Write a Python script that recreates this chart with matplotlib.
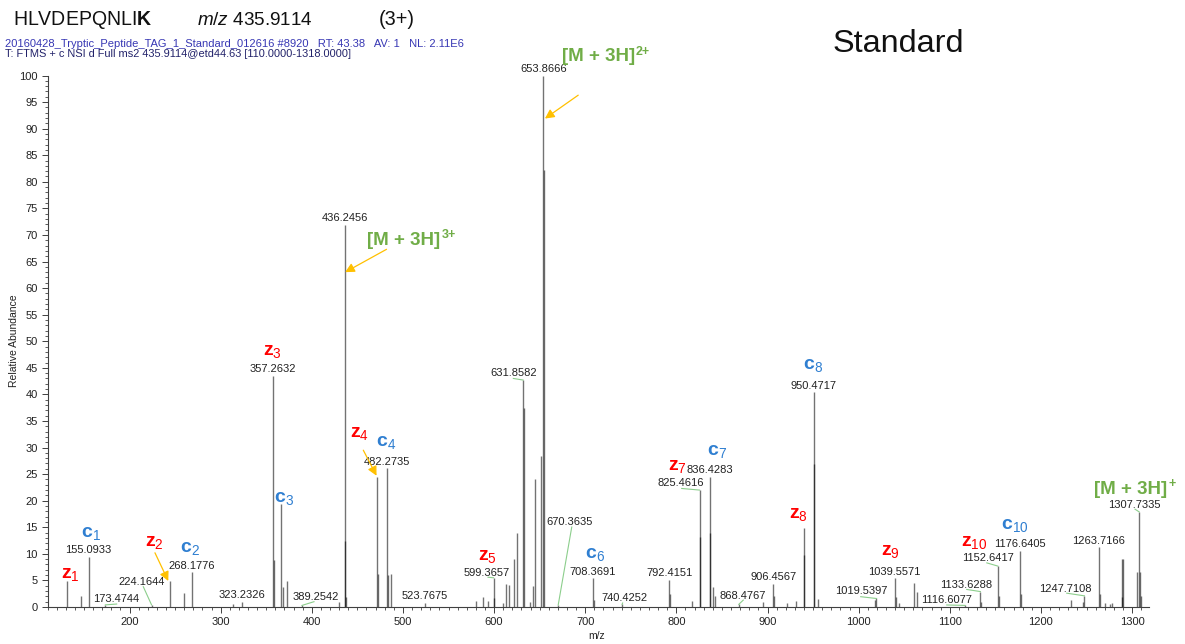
import matplotlib
matplotlib.use("Agg")
import matplotlib.pyplot as plt
from matplotlib.ticker import MultipleLocator
from matplotlib.transforms import offset_copy

plt.rcParams["font.family"] = ["Liberation Sans", "DejaVu Sans"]
plt.rcParams["mathtext.fontset"] = "custom"
plt.rcParams["mathtext.rm"] = "Liberation Sans"
plt.rcParams["mathtext.bf"] = "Liberation Sans:bold"
plt.rcParams["mathtext.it"] = "Liberation Sans:italic"
plt.rcParams["mathtext.default"] = "regular"

# ---- spectrum: centroid m/z and relative abundance (%) ----
peak_mz = [131.1, 146.9, 155.0933, 173.4744, 224.1644, 244.14, 260.1, 268.1776,
           313.9, 323.2326, 357.2632, 358.27, 366.2, 368.0, 373.2, 389.2542,
           430.0, 436.2456, 436.58, 437.2, 471.2, 472.2, 482.2735, 483.3, 486.6,
           523.7675, 579.9, 588.2, 593.7, 599.3657, 600.4, 609.5, 613.1, 616.4,
           621.5, 625.0, 631.8582, 632.36, 639.5, 643.1, 644.85, 651.3,
           653.8666, 654.37, 670.3635, 708.3691, 709.37, 740.4252, 792.4151,
           793.4, 816.9, 825.4616, 826.46, 836.4283, 837.43, 840.3, 842.5,
           868.4767, 894.7, 906.4567, 907.46, 921.2, 931.5, 939.5, 940.5,
           950.4717, 951.47, 955.8, 1017.6, 1019.5397, 1039.5571, 1040.56,
           1044.3, 1061.2, 1063.7, 1116.6077, 1133.6288, 1134.6, 1152.6417,
           1153.6, 1176.6405, 1177.64, 1232.7, 1245.7, 1247.7108, 1263.7166,
           1264.7, 1270.6, 1276.0, 1278.5, 1288.5, 1289.4, 1290.2, 1305.2,
           1307.7335, 1308.7, 1310.0]
peak_int = [4.8, 2.1, 9.5, 0.4, 0.4, 4.8, 2.6, 6.5,
            0.6, 1.0, 43.5, 8.8, 19.3, 3.8, 4.8, 0.3,
            0.9, 71.9, 12.4, 1.9, 24.5, 6.3, 26.1, 6.0, 6.3,
            0.8, 1.2, 1.9, 1.2, 5.5, 1.6, 0.8, 4.3, 4.1,
            9.0, 14.0, 42.7, 37.4, 1.0, 4.0, 24.0, 28.5,
            100.0, 82.2, 0.4, 5.4, 1.3, 0.5, 5.1,
            2.5, 1.2, 22.0, 13.2, 24.5, 14.0, 3.8, 2.0,
            0.5, 1.0, 4.3, 2.0, 0.8, 1.2, 14.8, 9.8,
            40.4, 26.9, 1.5, 1.4, 1.6, 5.4, 1.8,
            0.8, 4.5, 2.9, 0.3, 2.9, 1.0, 7.7,
            2.0, 10.6, 2.5, 1.3, 1.0, 2.1, 11.2,
            2.5, 0.8, 0.6, 0.8, 1.9, 9.0, 9.0, 6.6,
            17.9, 6.6, 2.0]

# peaks labelled directly above
centered_labels = [155.0933, 268.1776, 323.2326, 357.2632, 436.2456, 482.2735,
                   523.7675, 653.8666, 708.3691, 792.4151, 836.4283, 906.4567,
                   950.4717, 1039.5571, 1176.6405, 1263.7166]

# peaks labelled off to the side: (peak m/z, label x, label y, joint x, joint y)
offset_labels = [
    (173.4744, 185.2, 1.5, 185.9, 0.56),
    (224.1644, 213.8, 4.76, 215.1, 3.82),
    (389.2542, 403.8, 1.88, 402.4, 1.0),
    (599.3657, 591.9, 6.45, 593.3, 5.6),
    (631.8582, 621.5, 44.0, 621.1, 43.0),
    (670.3635, 683.3, 15.9, 685.2, 15.05),
    (740.4252, 742.6, 1.7, 741.0, 0.75),
    (825.4616, 805.3, 23.3, 805.8, 22.3),
    (868.4767, 872.6, 2.07, 873.4, 1.3),
    (1019.5397, 1002.6, 3.07, 1002.2, 1.94),
    (1116.6077, 1096.6, 1.3, 1096.6, 0.38),
    (1133.6288, 1117.5, 4.1, 1118.6, 3.3),
    (1152.6417, 1141.5, 9.2, 1140.6, 8.3),
    (1247.7108, 1227.3, 3.3, 1228.3, 2.6),
    (1307.7335, 1302.9, 19.2, 1303.2, 18.4),
]

# fragment ion annotations: (index, x, baseline y)
z_ions = [(1, 135.2, 5.4), (2, 227.1, 11.5), (3, 357.2, 47.4), (4, 452.0, 31.9),
          (5, 592.3, 8.8), (7, 801.1, 25.8), (8, 933.8, 16.7), (9, 1034.6, 9.8),
          (10, 1127.2, 11.5)]
c_ions = [(1, 158.0, 13.1), (2, 266.7, 10.3), (3, 369.8, 19.8), (4, 481.2, 30.2),
          (6, 710.4, 9.2), (7, 845.0, 28.6), (8, 950.3, 44.7), (10, 1171.1, 14.6)]

# precursor-related annotations: (charge text, x, baseline y)
precursor_labels = [("3+", 509.2, 68.2), ("2+", 722.9, 102.7), ("+", 1303.2, 21.3)]

# arrows: (start x, start y, end x, end y)
arrows = [(227.9, 10.2, 242.5, 4.9), (456.5, 29.5, 471.0, 24.7),
          (482.0, 67.3, 436.6, 63.0), (692.3, 96.3, 655.8, 91.9)]

W, H = 1185, 644
fig = plt.figure(figsize=(W / 100, H / 100), dpi=100)
ax = fig.add_axes([47.5 / W, 37 / H, 1101 / W, 531.5 / H])

RED = "#ff0000"
BLUE = "#2f7fd1"
GREEN = "#70ad47"
GOLD = "#ffc000"
LEAD = "#8cce8c"

ax.vlines(peak_mz, 0, peak_int, colors="black", alpha=0.55, linewidth=1.0)

ax.set_xlim(110, 1318)
ax.set_ylim(0, 100)
for s in ("top", "right"):
    ax.spines[s].set_visible(False)
for s in ("left", "bottom"):
    ax.spines[s].set_color("#404040")
    ax.spines[s].set_linewidth(0.8)

ax.xaxis.set_major_locator(MultipleLocator(100))
ax.xaxis.set_minor_locator(MultipleLocator(10))
ax.yaxis.set_major_locator(MultipleLocator(5))
ax.yaxis.set_minor_locator(MultipleLocator(1))
ax.set_xticks(range(200, 1301, 100))
ax.tick_params(which="major", length=4, width=0.7, color="#404040",
               labelsize=8, labelcolor="#222222", pad=3)
ax.tick_params(which="minor", length=2, width=0.6, color="#404040")

lookup = dict(zip(peak_mz, peak_int))

for mz in centered_labels:
    ax.annotate(f"{mz:.4f}", xy=(mz, lookup[mz]), xytext=(0, 1.2),
                textcoords="offset points", ha="center", va="bottom",
                fontsize=8, color="#222222", annotation_clip=False)

for mz, lx, ly, jx, jy in offset_labels:
    ax.text(lx, ly, f"{mz:.4f}", ha="center", va="center", fontsize=8,
            color="#222222")
    ax.plot([mz, jx], [lookup[mz], jy], color=LEAD, lw=0.8)

for n, x, y in z_ions:
    ax.text(x, y, r"$\mathbf{z}_{%d}$" % n, ha="center", va="baseline",
            fontsize=14, color=RED)
for n, x, y in c_ions:
    ax.text(x, y, r"$\mathbf{c}_{%d}$" % n, ha="center", va="baseline",
            fontsize=14, color=BLUE)

renderer = fig.canvas.get_renderer()

# "[M + 3H]" with a raised charge state, centred as a whole on x
for charge, x, y in precursor_labels:
    main = ax.text(x, y, "[M + 3H]", ha="left", va="baseline", fontsize=13.5,
                   fontweight="bold", color=GREEN, clip_on=False)
    sup = ax.text(x, y, charge, ha="left", va="baseline", fontsize=9,
                  fontweight="bold", color=GREEN, clip_on=False)
    wm = main.get_window_extent(renderer).width
    ws = sup.get_window_extent(renderer).width
    shift = -(wm + ws + 1) / 2
    main.set_transform(offset_copy(ax.transData, fig, x=shift, y=0, units="dots"))
    sup.set_transform(offset_copy(ax.transData, fig, x=shift + wm + 1, y=6.5,
                                  units="dots"))

for x0, y0, x1, y1 in arrows:
    ax.annotate("", xy=(x1, y1), xytext=(x0, y0), annotation_clip=False,
                arrowprops=dict(arrowstyle="-|>,head_length=0.55,head_width=0.28",
                                color=GOLD, lw=0.9, shrinkA=0, shrinkB=0))


def place(x_px, y_px, s, width_px=None, **kw):
    t = fig.text(x_px / W, 1 - y_px / H, s, va="baseline", **kw)
    if width_px:
        w = t.get_window_extent(renderer).width
        t.set_fontsize(t.get_fontsize() * width_px / w)
    return t


place(13, 25, r"HLVDEPQNLI$\mathbf{K}$", 140, fontsize=14, color="#111111")
place(196.7, 25, r"$\mathit{m/z}$ 435.9114", 116.6, fontsize=14, color="#111111")
place(379, 25, "(3+)", 36, fontsize=14, color="#111111")
place(5, 46.7, "20160428_Tryptic_Peptide_TAG_1_Standard_012616 #8920   RT: 43.38   "
      "AV: 1   NL: 2.11E6", 458, fontsize=7.5, color="#3737b4")
place(5, 57.3, "T: FTMS + c NSI d Full ms2 435.9114@etd44.63 [110.0000-1318.0000]",
      347, fontsize=7.5, color="#22226a")
place(833, 52, "Standard", 132, fontsize=23, color="#111111")

fig.text(14 / W, 1 - 341 / H, "Relative Abundance", rotation=90, ha="center",
         va="center", fontsize=7.5, color="#222222")
fig.text(597 / W, 1 - 636 / H, "m/z", ha="center", va="center", fontsize=7.5,
         color="#222222")

fig.savefig("out.png", dpi=100)
